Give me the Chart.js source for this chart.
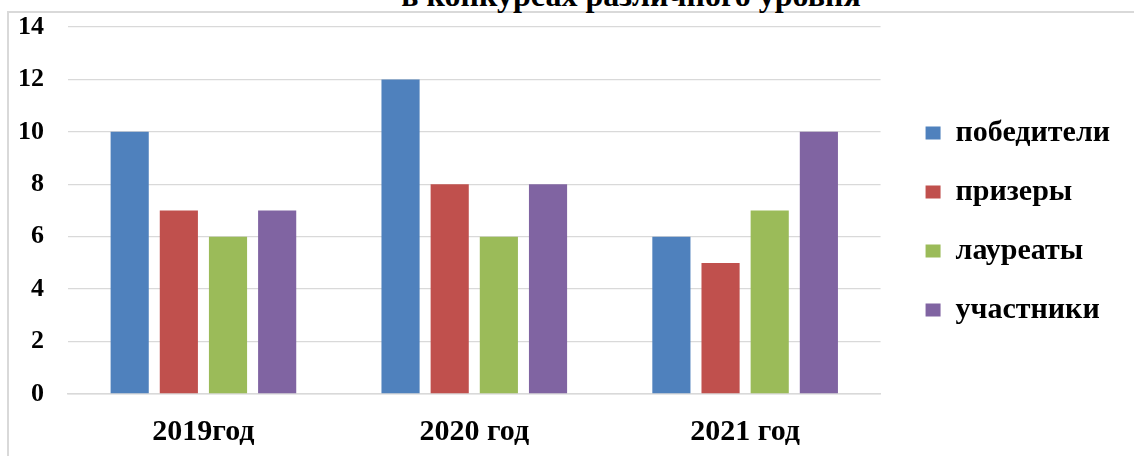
<!DOCTYPE html>
<html>
<head>
<meta charset="utf-8">
<script src="https://cdn.jsdelivr.net/npm/chart.js@4.4.1/dist/chart.umd.min.js"></script>
<style>
  html, body { margin: 0; padding: 0; background: #fff; overflow: hidden; }
  #wrap { position: relative; width: 1134px; height: 456px; }
  #frame { position: absolute; left: 7px; top: 11px; right: -4px; bottom: -4px;
           border-left: 2px solid #d9d9d9; border-top: 2px solid #d9d9d9; }
  #title { position: absolute; left: 0; width: 1262px; top: -21px; text-align: center;
           font: bold 32px/32px 'Liberation Serif', serif; color: #000; white-space: nowrap; }
  #box { position: absolute; left: 0; top: 0; width: 1134px; height: 456px; }
</style>
</head>
<body>
<div id="wrap">
  <div id="frame"></div>
  <div id="title">в конкурсах различного уровня</div>
  <div id="box"><canvas id="myChart"></canvas></div>
</div>
<script>
const years = ["2019год", "2020 год", "2021 год"];
const seriesNames = ["победители", "призеры", "лауреаты", "участники"];
const pobediteli = [10, 12, 6];
const prizery = [7, 8, 5];
const laureaty = [6, 6, 7];
const uchastniki = [7, 8, 10];

Chart.defaults.font.family = "'Liberation Serif', 'Times New Roman', serif";
Chart.defaults.font.weight = "bold";
Chart.defaults.color = "#000";

// nudge the legend a bit so it sits where the original had it
const legendShift = {
  id: "legendShift",
  afterLayout(chart) {
    const lg = chart.legend;
    lg.left += 16; lg.right += 16;
    lg.top -= 20; lg.bottom -= 20;
  }
};

function createChart(){
  new Chart("myChart", {
    type: "bar",
    data: {
      labels: years,
      datasets: [{
        label: seriesNames[0],
        backgroundColor: "#4f81bd",
        data: pobediteli
      },{
        label: seriesNames[1],
        backgroundColor: "#c0504d",
        data: prizery
      },{
        label: seriesNames[2],
        backgroundColor: "#9bbb59",
        data: laureaty
      },{
        label: seriesNames[3],
        backgroundColor: "#8064a2",
        data: uchastniki
      }]
    },
    plugins: [legendShift],
    options: {
      responsive: true,
      maintainAspectRatio: false,
      animation: false,
      categoryPercentage: 0.726,
      barPercentage: 0.776,
      layout: {
        padding: { top: 27, left: 0, right: 30, bottom: 0 }
      },
      plugins: {
        tooltip: { enabled: false },
        title: { display: false },
        legend: {
          position: "right",
          labels: {
            boxWidth: 15,
            boxHeight: 13,
            padding: 29,
            color: "#000",
            font: { size: 30, weight: "bold" }
          }
        }
      },
      scales: {
        x: {
          grid: { display: false, drawTicks: false },
          border: { color: "#d9d9d9", width: 1.5 },
          ticks: {
            padding: 20,
            font: { size: 30, weight: "bold" }
          },
          afterFit: function(scale) { scale.height = 62; }
        },
        y: {
          min: 0,
          max: 14,
          grid: { color: "#d9d9d9", lineWidth: 1.3, drawTicks: false },
          border: { display: false },
          ticks: {
            stepSize: 2,
            padding: 24,
            font: { size: 26, weight: "bold" }
          },
          afterFit: function(scale) {
            scale.width = 68;
            scale.paddingTop = 0;
            scale.paddingBottom = 0;
          }
        }
      }
    }
  });
}
createChart();
</script>
</body>
</html>
